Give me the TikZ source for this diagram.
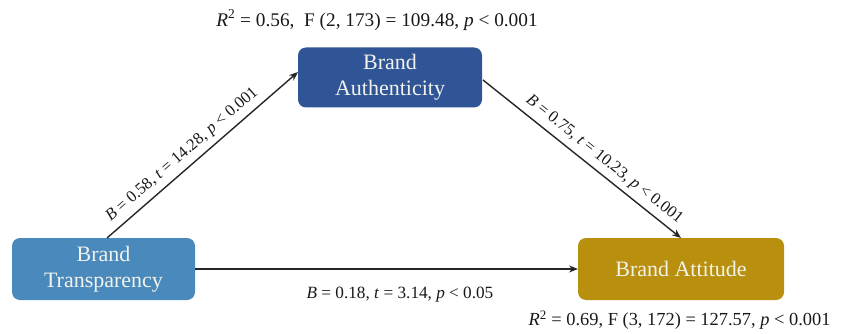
\documentclass[tikz,border=0pt]{standalone}
\usepackage{fontspec}
\setmainfont{Liberation Serif}
\usetikzlibrary{arrows.meta}
\definecolor{authblue}{HTML}{2F5597}
\definecolor{transblue}{HTML}{4A89BC}
\definecolor{attgold}{HTML}{B8900E}
\definecolor{boxtext}{HTML}{F2F2EC}
\tikzset{
  box/.style={rounded corners=8pt, minimum width=184pt, minimum height=60pt, align=center,
    text=boxtext, font=\fontsize{22}{26}\selectfont, inner sep=0pt},
  conn/.style={-{Stealth[length=9pt,width=7pt]}, line width=1.4pt, black!85},
  lab/.style={font=\fontsize{16.5}{18}\selectfont, text=black!90},
  stat/.style={font=\fontsize{19.3}{21}\selectfont, text=black!90}
}
\begin{document}
\begin{tikzpicture}[x=1pt,y=-1pt]
\useasboundingbox (0,0) rectangle (845,334);
\node[box, fill=authblue] (auth) at (390,77.5) {Brand\\Authenticity};
\node[box, fill=transblue, minimum width=183pt, minimum height=62pt] (trans) at (103.5,269) {Brand\\Transparency};
\node[box, fill=attgold, minimum width=206pt, minimum height=62pt] (att) at (681,269) {Brand Attitude};
\coordinate (a1) at (107,238);
\coordinate (a2) at (298,72);
\coordinate (b1) at (483,80);
\coordinate (b2) at (681,238);
\coordinate (c1) at (195,269);
\coordinate (c2) at (578,269);
\draw[conn] (a1) -- node[lab, pos=0.44, above=2pt, sloped] (l1) {\textit{B} = 0.58, \textit{t} = 14.28, \textit{p} < 0.001} (a2);
\draw[conn] (b1) -- node[lab, pos=0.57, above=2pt, sloped] (l2) {\textit{B} = 0.75, \textit{t} = 10.23, \textit{p} < 0.001} (b2);
\draw[conn] (c1) -- (c2);
\node[lab, font=\fontsize{17.2}{19}\selectfont] (l3) at (400,295) {\textit{B} = 0.18, \textit{t} = 3.14, \textit{p} < 0.05};
\node[stat] (s1) at (377,20) {\textit{R}\textsuperscript{2} = 0.56,\ \ F (2, 173) = 109.48, \textit{p} < 0.001};
\node[stat, font=\fontsize{18.4}{20}\selectfont, anchor=east] (s2) at (834,320) {\textit{R}\textsuperscript{2} = 0.69, F (3, 172) = 127.57, \textit{p} < 0.001};
\end{tikzpicture}
\end{document}
